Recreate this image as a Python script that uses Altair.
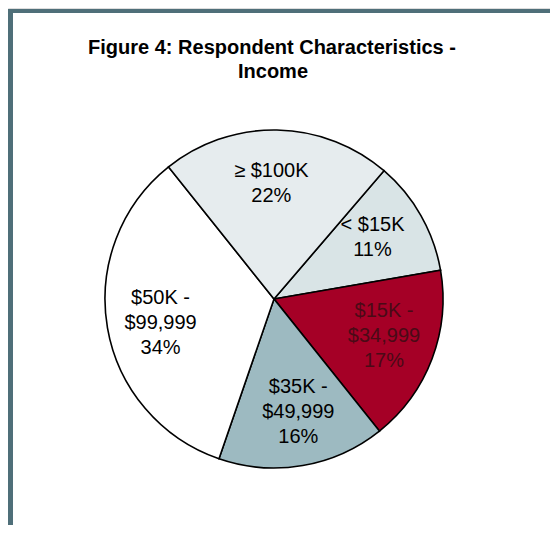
import math
import altair as alt
import pandas as pd

categories = ["< $15K", "$15K - $34,999", "$35K - $49,999", "$50K - $99,999", "\u2265 $100K"]
percents = [11, 17, 16, 34, 22]
label_lines = [
    ["< $15K", "11%"],
    ["$15K -", "$34,999", "17%"],
    ["$35K -", "$49,999", "16%"],
    ["$50K -", "$99,999", "34%"],
    ["\u2265 $100K", "22%"],
]
slice_colors = ["#d9e4e6", "#a50026", "#9dbac1", "#ffffff", "#e6ecee"]
title_line1 = "Figure 4: Respondent Characteristics -"
title_line2 = "Income"

df = pd.DataFrame({
    "category": categories,
    "percent": percents,
    "label": ["\n".join(l) for l in label_lines],
    "nlines": [len(l) for l in label_lines],
    "idx": list(range(len(categories))),
})

start = math.radians(40.6)
W, H = 542, 517
CX, CY, R = 266, 291, 169
FONT = "Liberation Sans"
LH = 25

theta_scale = alt.Scale(domain=[0, 100], range=[start, start + 2 * math.pi])

base = alt.Chart(df).transform_stack(
    stack="percent", groupby=[], as_=["s0", "s1"],
    sort=[alt.SortField("idx", order="ascending")]
).transform_calculate(mid="(datum.s0 + datum.s1) / 2")

arcs = base.mark_arc(outerRadius=R, stroke="#000000", strokeWidth=1.6).encode(
    theta=alt.Theta("s0:Q", scale=theta_scale),
    theta2="s1:Q",
    color=alt.Color("category:N", legend=None,
                    scale=alt.Scale(domain=categories, range=slice_colors)),
    x=alt.value(CX), y=alt.value(CY),
)


def label_layer(n):
    return base.transform_filter(alt.datum.nlines == n).mark_text(
        radius=116, thetaOffset=-0.04, fontSize=20, font=FONT,
        lineBreak="\n", lineHeight=LH, align="center",
        baseline="middle", dy=-(n - 1) * LH / 2).encode(
        theta=alt.Theta("mid:Q", scale=theta_scale),
        text="label:N",
        color=alt.condition(alt.datum.category == "$15K - $34,999",
                            alt.value("#4a0a16"), alt.value("#000000")),
        x=alt.value(CX), y=alt.value(CY),
    )


labels2 = label_layer(2)
labels3 = label_layer(3)

one = pd.DataFrame({"k": [0]})
title1 = alt.Chart(one).mark_text(fontSize=20, font=FONT, fontWeight="bold",
                                  align="center", baseline="alphabetic").encode(
    text=alt.value(title_line1), x=alt.value(264), y=alt.value(46))
title2 = alt.Chart(one).mark_text(fontSize=20, font=FONT, fontWeight="bold",
                                  align="center", baseline="alphabetic").encode(
    text=alt.value(title_line2), x=alt.value(265), y=alt.value(70))

frame_top = alt.Chart(one).mark_rule(color="#4f6f79", strokeWidth=4).encode(
    x=alt.value(0), x2=alt.value(W + 8), y=alt.value(3)
)
frame_left = alt.Chart(one).mark_rule(color="#4f6f79", strokeWidth=5).encode(
    x=alt.value(2.5), y=alt.value(1), y2=alt.value(H + 8)
)

chart = alt.layer(arcs, labels2, labels3, title1, title2, frame_top, frame_left).properties(
    width=W, height=H, padding=0, autosize=alt.AutoSizeParams(type="none")
).configure_view(stroke=None).configure(background="#ffffff")

chart.save("out.html", embed_options={"renderer": "svg", "actions": False})
